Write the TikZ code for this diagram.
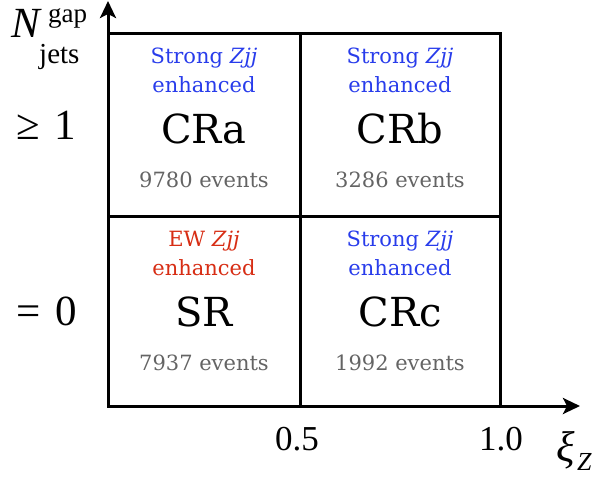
\documentclass[tikz,border=0pt]{standalone}
\usepackage{fontspec}
\newfontfamily\boxfont{DejaVu Serif}
\setmainfont{Liberation Serif}
\usetikzlibrary{arrows.meta}
\definecolor{sblue}{RGB}{40,60,235}
\definecolor{ewred}{RGB}{215,45,20}
\definecolor{evgray}{RGB}{100,100,100}
\tikzset{
  axis/.style={line width=3pt,-{Stealth[length=17pt,width=16pt,inset=4pt]}},
  grid/.style={line width=3pt},
  tag/.style={font=\boxfont\fontsize{21}{29}\selectfont,align=center},
  region/.style={font=\boxfont\fontsize{40}{40}\selectfont,anchor=base},
  count/.style={font=\boxfont\fontsize{21}{21}\selectfont,text=evgray,anchor=base},
  axlab/.style={font=\fontsize{43}{43}\selectfont,anchor=base west,inner sep=0pt},
  suplab/.style={font=\fontsize{27}{27}\selectfont,anchor=base west,inner sep=0pt},
  ticklab/.style={font=\fontsize{35}{35}\selectfont}
}
\begin{document}
\begin{tikzpicture}[x=1pt,y=-1pt]
\useasboundingbox (0,0) rectangle (600,477);
% grid
\coordinate (tl) at (108,33);
\coordinate (br) at (500,406);
\draw[grid] (tl) rectangle (br);
\coordinate (vt) at (300,33);
\coordinate (vb) at (300,406);
\coordinate (hl) at (108,216);
\coordinate (hr) at (500,216);
\draw[grid] (vt) -- (vb);
\draw[grid] (hl) -- (hr);
% axes
\coordinate (o) at (108,406);
\coordinate (ytop) at (108,1);
\coordinate (xend) at (580,406);
\draw[axis] (o) -- (ytop);
\draw[axis] (o) -- (xend);
% region labels
\node[tag,text=sblue] (ta) at (204,70) {Strong \textit{Zjj}\\enhanced};
\node[region] (cra) at (204,143) {CRa};
\node[count] (ca) at (204,187) {9780 events};
\node[tag,text=sblue] (tb) at (400,70) {Strong \textit{Zjj}\\enhanced};
\node[region] (crb) at (400,143) {CRb};
\node[count] (cb) at (400,187) {3286 events};
\node[tag,text=ewred] (ts) at (204,253) {EW \textit{Zjj}\\enhanced};
\node[region] (sr) at (204,326) {SR};
\node[count] (cs) at (204,370) {7937 events};
\node[tag,text=sblue] (tc) at (400,253) {Strong \textit{Zjj}\\enhanced};
\node[region] (crc) at (400,326) {CRc};
\node[count] (cc) at (400,370) {1992 events};
% axis labels
\node[axlab] (ylabN) at (11,37) {\textit{N}};
\node[suplab] (ylabgap) at (48,22) {gap};
\node[suplab,font=\fontsize{29}{29}\selectfont] (ylabjets) at (39,63) {jets};
\node[axlab] (ge) at (16,139) {≥\hspace{15pt}1};
\node[axlab] (eq) at (16,325) {=\hspace{15pt}0};
\node[ticklab] (t5) at (297,439) {0.5};
\node[ticklab] (t10) at (501,439) {1.0};
\node[axlab] (xlab) at (556,461) {\textit{ξ}};
\node[suplab,font=\fontsize{26}{26}\selectfont\itshape] (xlabZ) at (577,470) {Z};
\end{tikzpicture}
\end{document}
